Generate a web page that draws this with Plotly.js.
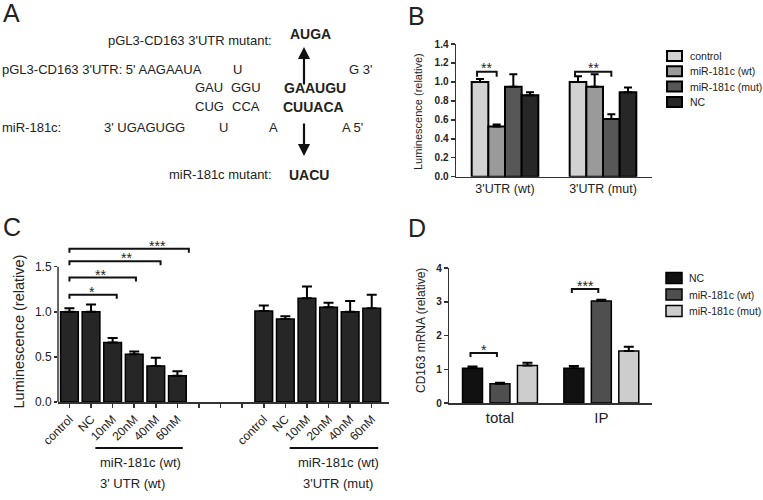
<!DOCTYPE html>
<html>
<head>
<meta charset="utf-8">
<script src="https://cdn.plot.ly/plotly-3.0.1.min.js"></script>
<style>html,body{margin:0;padding:0;background:#fff;}#chart{width:763px;height:500px;}</style>
</head>
<body>
<div id="chart"></div>
<script>
// ---------- DATA ----------
// Panel B
const bGroups = ["3'UTR (wt)", "3'UTR (mut)"];
const bSeries = ['control', 'miR-181c (wt)', 'miR-181c (mut)', 'NC'];
const bMeans = [[1.00, 1.00], [0.53, 0.95], [0.95, 0.61], [0.86, 0.89]];
const bErrs  = [[0.03, 0.06], [0.02, 0.13], [0.13, 0.05], [0.03, 0.05]];
const bSigPairs = [[0, 0, 1], [1, 0, 2]];   // [group, series from, series to]
const bSigText = ['**', '**'];

// Panel C
const cLabels = ['control', 'NC', '10nM', '20nM', '40nM', '60nM'];
const cWtMeans  = [1.00, 1.00, 0.66, 0.53, 0.40, 0.29];
const cWtErrs   = [0.04, 0.08, 0.05, 0.03, 0.09, 0.05];
const cMutMeans = [1.01, 0.92, 1.15, 1.05, 1.00, 1.04];
const cMutErrs  = [0.06, 0.03, 0.13, 0.05, 0.12, 0.15];
const cSigTo = [2, 3, 4, 5];           // bracket from 'control' to these bars
const cSigText = ['*', '**', '**', '***'];
const cGroupLabels = ['miR-181c (wt)', 'miR-181c (wt)'];
const cConstructLabels = ["3' UTR (wt)", "3'UTR (mut)"];

// Panel D
const dGroups = ['total', 'IP'];
const dSeries = ['NC', 'miR-181c (wt)', 'miR-181c (mut)'];
const dMeans = [[1.03, 1.03], [0.57, 3.02], [1.11, 1.54]];
const dErrs  = [[0.05, 0.07], [0.03, 0.04], [0.08, 0.13]];
const dSigPairs = [[0, 0, 1], [1, 0, 1]];
const dSigText = ['*', '***'];

// ---------- STYLE / LAYOUT ----------
const W = 763, H = 500;
const px = x => x / W;
const py = y => 1 - y / H;
const FONT = 'Arial, "Liberation Sans", sans-serif';
const TXT = '#222';
const STAR = 14;
const bColors = ['#d2d2d2', '#9a9a9a', '#575757', '#272727'];
const dColors = ['#111111', '#4f4f4f', '#cdcdcd'];
const cGap = 3;

const traces = [];
const shapes = [];
const annotations = [];

function txt(text, x, y, size, opts) {
  annotations.push(Object.assign({
    text: text, x: px(x), y: py(y), xref: 'paper', yref: 'paper',
    showarrow: false, xanchor: 'center', yanchor: 'middle',
    font: {family: FONT, size: size, color: TXT}
  }, opts || {}));
}
function bracket(xr, yr, x0, x1, yy, tick) {
  shapes.push({type: 'path', xref: xr, yref: yr,
    path: `M${x0},${yy - tick} L${x0},${yy} L${x1},${yy} L${x1},${yy - tick}`,
    line: {color: '#111', width: 2}});
}
function star(xr, yr, text, x, y) {
  annotations.push({text: text, x: x, y: y, xref: xr, yref: yr, showarrow: false,
    xanchor: 'center', yanchor: 'middle', font: {family: FONT, size: STAR, color: TXT}});
}

// ----- Panel B bars -----
const bSlot = 0.17, bW = 0.17, bPxPerUnit = 94.8;
bSeries.forEach((name, i) => {
  traces.push({
    type: 'bar', name: name, x: bGroups, y: bMeans[i],
    xaxis: 'x', yaxis: 'y', showlegend: false,
    width: bW, offset: -2 * bSlot + i * bSlot + (bSlot - bW) / 2,
    marker: {color: bColors[i], line: {color: '#000', width: 2}},
    error_y: {type: 'data', symmetric: false, array: bErrs[i], arrayminus: bErrs[i].map(() => 0),
              color: '#000', thickness: 2, width: 4}
  });
});
const bCenter = (g, s) => g - 2 * bSlot + s * bSlot + bSlot / 2;
bSigPairs.forEach((p, k) => {
  const x0 = bCenter(p[0], p[1]) - 0.03, x1 = bCenter(p[0], p[2]), yy = 1.108;
  bracket('x', 'y', x0, x1, yy, 5 / bPxPerUnit);
  star('x', 'y', bSigText[k], (x0 + x1) / 2, yy + 4 / bPxPerUnit);
});

// ----- Panel C bars -----
const cW = 0.82, cPxPerUnit = 90.2;
const cxWt = cLabels.map((_, i) => i);
const cxMut = cLabels.map((_, i) => i + cLabels.length + cGap);
[[cxWt, cWtMeans, cWtErrs, cConstructLabels[0]], [cxMut, cMutMeans, cMutErrs, cConstructLabels[1]]].forEach(d => {
  traces.push({
    type: 'bar', name: d[3], x: d[0], y: d[1], xaxis: 'x2', yaxis: 'y2', showlegend: false,
    width: cW, marker: {color: '#262626', line: {color: '#000', width: 1.5}},
    error_y: {type: 'data', symmetric: false, array: d[2], arrayminus: d[2].map(() => 0),
              color: '#000', thickness: 2, width: 5}
  });
});
const cTickVals = [], cTickText = [];
for (let i = 0; i < cLabels.length * 2 + cGap; i++) {
  cTickVals.push(i);
  if (i < cLabels.length) cTickText.push(cLabels[i]);
  else if (i < cLabels.length + cGap) cTickText.push('');
  else cTickText.push(cLabels[i - cLabels.length - cGap]);
}
// manual y axis line (range extended for brackets)
shapes.push({type: 'line', xref: 'x2 domain', yref: 'y2', x0: 0, x1: 0, y0: 0, y1: 1.5,
  line: {color: '#333', width: 1.5}});
const cSigY = [1.19, 1.38, 1.56, 1.70];
const cSigEnd = [0.19, 0.08, 0.22, 0.53];
const cStarX = [1.04, 1.46, 2.62, 4.07];
cSigTo.forEach((t, k) => {
  const x0 = cxWt[0], x1 = cxWt[t] + cSigEnd[k], yy = cSigY[k];
  bracket('x2', 'y2', x0, x1, yy, 4 / cPxPerUnit);
  star('x2', 'y2', cSigText[k], cStarX[k], yy + 3 / cPxPerUnit);
});
// group underlines & labels
[[cxWt[1] + 0.2, cxWt[5] + 0.25, 140], [cxMut[1] + 0.2, cxMut[5] + 0.3, 338]].forEach((u, k) => {
  shapes.push({type: 'line', xref: 'x2', yref: 'paper', x0: u[0], x1: u[1], y0: py(448), y1: py(448),
    line: {color: '#111', width: 2}});
  txt(cGroupLabels[k], u[2], 462, 13);
  txt(cConstructLabels[k], k === 0 ? 132 : 338, 483, 13);
});

// ----- Panel D bars -----
const dSlot = 0.271, dW = 0.197, dPxPerUnit = 33.75;
dSeries.forEach((name, i) => {
  traces.push({
    type: 'bar', name: name, x: dGroups, y: dMeans[i],
    xaxis: 'x3', yaxis: 'y3', showlegend: false,
    width: dW, offset: -1.5 * dSlot + i * dSlot + (dSlot - dW) / 2,
    marker: {color: dColors[i], line: {color: '#000', width: 1.5}},
    error_y: {type: 'data', symmetric: false, array: dErrs[i], arrayminus: dErrs[i].map(() => 0),
              color: '#000', thickness: 2, width: 5}
  });
});
const dCenter = (g, s) => g - 1.5 * dSlot + s * dSlot + dSlot / 2;
const dSigY = [1.48, 3.38];
dSigPairs.forEach((p, k) => {
  const x0 = dCenter(p[0], p[1]) - 0.02, x1 = dCenter(p[0], p[2]) - 0.03, yy = dSigY[k];
  bracket('x3', 'y3', x0, x1, yy, 4 / dPxPerUnit);
  star('x3', 'y3', dSigText[k], (x0 + x1) / 2, yy + 3 / dPxPerUnit);
});

// ----- Manual legends -----
bSeries.forEach((name, i) => {
  const yc = 56 + i * 15.3;
  shapes.push({type: 'rect', xref: 'paper', yref: 'paper', x0: px(667), x1: px(682),
    y0: py(yc + 5), y1: py(yc - 5), fillcolor: bColors[i], line: {color: '#000', width: 2}});
  txt(name, 688, yc, 10.5, {xanchor: 'left'});
});
dSeries.forEach((name, i) => {
  const yc = 278 + i * 16.5;
  shapes.push({type: 'rect', xref: 'paper', yref: 'paper', x0: px(666), x1: px(682),
    y0: py(yc + 5.5), y1: py(yc - 5.5), fillcolor: dColors[i], line: {color: '#000', width: 1.5}});
  txt(name, 687, yc, 10.5, {xanchor: 'left'});
});

// ----- Axis titles & panel letters -----
txt('Luminescence (relative)', 418, 112, 11, {textangle: -90});
txt('Luminescence (relative)', 18.5, 332, 14.5, {textangle: -90});
txt('CD163 mRNA (relative)', 421, 331, 12, {textangle: -90});
txt('A', 11, 13, 25);
txt('B', 416, 16, 25);
txt('C', 12, 227, 25);
txt('D', 417, 228, 25);

// ----- Panel A (sequence diagram) -----
const fa = 13;
txt("pGL3-CD163 3'UTR mutant:", 274, 41, fa, {xanchor: 'right'});
txt('<b>AUGA</b>', 288, 34, 14, {xanchor: 'left'});
txt("pGL3-CD163 3'UTR: 5' AAGAAUA", 204, 69, fa, {xanchor: 'right'});
txt('U', 237, 69, fa);
txt("G 3'", 347, 69, fa, {xanchor: 'left'});
txt('GAU', 193, 88, fa, {xanchor: 'left'});
txt('GGU', 229, 88, fa, {xanchor: 'left'});
txt('<b>GAAUGU</b>', 282, 88, 14, {xanchor: 'left'});
txt('CUG', 193, 107, fa, {xanchor: 'left'});
txt('CCA', 230, 107, fa, {xanchor: 'left'});
txt('<b>CUUACA</b>', 281, 107, 14, {xanchor: 'left'});
txt('miR-181c:', 0, 127, fa, {xanchor: 'left'});
txt("3' UGAGUGG", 102, 127, fa, {xanchor: 'left'});
txt('U', 223, 127, fa);
txt('A', 273, 127, fa);
txt("A 5'", 340, 127, fa, {xanchor: 'left'});
txt('miR-181c mutant:', 274, 174, fa, {xanchor: 'right'});
txt('<b>UACU</b>', 287, 175, 14, {xanchor: 'left'});
// arrows
annotations.push({text: '', x: px(304), y: py(47), xref: 'paper', yref: 'paper',
  ax: 0, ay: 39, showarrow: true, arrowhead: 2, arrowsize: 1.1, arrowwidth: 2.2, arrowcolor: '#111'});
annotations.push({text: '', x: px(304), y: py(156), xref: 'paper', yref: 'paper',
  ax: 0, ay: -34, showarrow: true, arrowhead: 2, arrowsize: 1.1, arrowwidth: 2.2, arrowcolor: '#111'});

// ----- Axes -----
const axLine = {showline: true, linecolor: '#333', linewidth: 1.5, showgrid: false, zeroline: false};
const layout = {
  width: W, height: H, margin: {l: 0, r: 0, t: 0, b: 0},
  paper_bgcolor: '#fff', plot_bgcolor: 'rgba(0,0,0,0)',
  font: {family: FONT, color: TXT}, showlegend: false,
  xaxis: Object.assign({}, axLine, {domain: [px(456), px(652)], range: [-0.5, 1.5], type: 'category',
    anchor: 'y', ticks: '', tickfont: {size: 12.5, color: TXT}}),
  yaxis: Object.assign({}, axLine, {domain: [py(176.7), py(44)], range: [0, 1.4], anchor: 'x',
    tickvals: [0, 0.2, 0.4, 0.6, 0.8, 1.0, 1.2, 1.4], tickformat: '.1f',
    ticks: 'outside', ticklen: 4, tickwidth: 1.5, tickcolor: '#333',
    tickfont: {size: 10, color: TXT, weight: 'bold'}}),
  xaxis2: Object.assign({}, axLine, {domain: [px(58), px(389)], range: [-0.53, 14.8], anchor: 'y2',
    tickvals: cTickVals, ticktext: cTickText, tickangle: -45,
    ticks: 'outside', ticklen: 4, tickwidth: 1.5, tickcolor: '#333',
    tickfont: {size: 12, color: TXT}}),
  yaxis2: {domain: [py(402), py(402 - 1.8 * cPxPerUnit)], range: [0, 1.8], anchor: 'x2',
    showline: false, showgrid: false, zeroline: false,
    tickvals: [0, 0.5, 1.0, 1.5], tickformat: '.1f',
    ticks: 'outside', ticklen: 3, tickwidth: 1.5, tickcolor: '#333',
    tickfont: {size: 12, color: TXT}},
  xaxis3: Object.assign({}, axLine, {domain: [px(449.3), px(652)], range: [-0.5, 1.5], type: 'category',
    anchor: 'y3', ticks: '', tickfont: {size: 15, color: TXT}}),
  yaxis3: Object.assign({}, axLine, {domain: [py(403), py(268)], range: [0, 4], anchor: 'x3',
    tickvals: [0, 1, 2, 3, 4], ticks: 'outside', ticklen: 4, tickwidth: 1.5, tickcolor: '#333',
    tickfont: {size: 10, color: TXT, weight: 'bold'}}),
  shapes: shapes,
  annotations: annotations
};

Plotly.newPlot('chart', traces, layout, {staticPlot: true, displayModeBar: false});
</script>
</body>
</html>
